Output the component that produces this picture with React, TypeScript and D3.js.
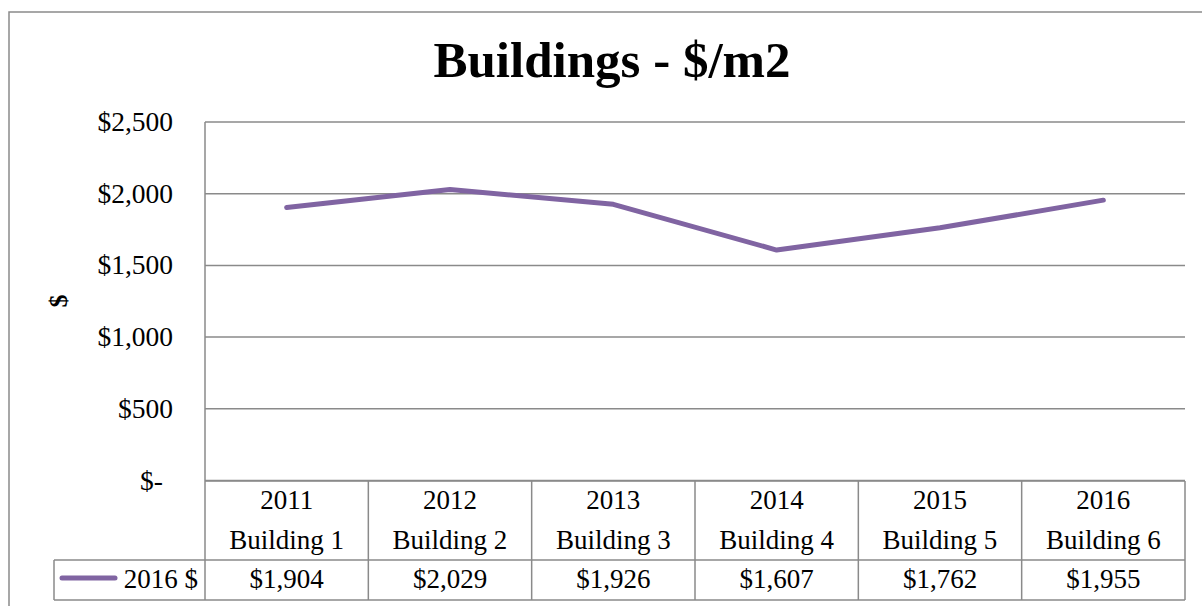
import React from "react";
import * as d3 from "d3";

const years = ["2011", "2012", "2013", "2014", "2015", "2016"];
const buildings = ["Building 1", "Building 2", "Building 3", "Building 4", "Building 5", "Building 6"];
const values2016 = [1904, 2029, 1926, 1607, 1762, 1955];
const seriesName = "2016 $";
const yTicks = [0, 500, 1000, 1500, 2000, 2500];

const W = 1202;
const H = 606;
const FONT = "'Liberation Serif', 'Times New Roman', serif";
const GRID = "#8a8a8a";
const LINE = "#8064a2";

const fmt = (v: number) => (v === 0 ? "$-" : "$" + d3.format(",")(v));

const App = () => {
  const x = d3.scaleBand<string>().domain(buildings).range([205, 1185]);
  const y = d3.scaleLinear().domain([0, 2500]).range([480.5, 122]);
  const rowTop = 481;
  const rowMid = 560;
  const rowBot = 600;

  const pts: [number, number][] = values2016.map((v, i) => [
    (x(buildings[i]) as number) + x.bandwidth() / 2,
    y(v),
  ]);
  const line = d3.line()(pts) as string;

  return (
    <svg
      width={W}
      height={H}
      style={{ position: "fixed", left: 0, top: 0, background: "#fff" }}
      fontFamily={FONT}
    >
      <rect x={9} y={12} width={1220} height={620} fill="#fff" stroke={GRID} strokeWidth={1.5} />

      <text x={612} y={77} textAnchor="middle" fontSize={51} fontWeight="bold" fill="#000">
        Buildings - $/m2
      </text>

      {/* gridlines */}
      {yTicks.map((t) => (
        <line key={t} x1={205} x2={1185} y1={y(t)} y2={y(t)} stroke={GRID} strokeWidth={1.5} />
      ))}
      {yTicks.map((t) => (
        <text
          key={"l" + t}
          x={t === 0 ? 163 : 173}
          y={y(t) + 9}
          textAnchor="end"
          fontSize={27.5}
          fill="#000"
        >
          {fmt(t)}
        </text>
      ))}

      <text
        transform="translate(67,301) rotate(-90)"
        textAnchor="middle"
        fontSize={26}
        fontWeight="bold"
        fill="#000"
      >
        $
      </text>

      {/* axis line */}
      <line x1={205} x2={205} y1={122} y2={rowBot} stroke={GRID} strokeWidth={1.5} />

      {/* data table */}
      <line x1={205} x2={1185} y1={rowTop} y2={rowTop} stroke={GRID} strokeWidth={1.5} />
      <line x1={54} x2={1185} y1={rowMid} y2={rowMid} stroke={GRID} strokeWidth={1.5} />
      <line x1={54} x2={1185} y1={rowBot} y2={rowBot} stroke={GRID} strokeWidth={1.5} />
      <line x1={54} x2={54} y1={rowMid} y2={rowBot} stroke={GRID} strokeWidth={1.5} />
      {buildings.map((b) => (
        <line
          key={"v" + b}
          x1={(x(b) as number) + x.bandwidth()}
          x2={(x(b) as number) + x.bandwidth()}
          y1={rowTop}
          y2={rowBot}
          stroke={GRID}
          strokeWidth={1.5}
        />
      ))}
      {buildings.map((b, i) => {
        const cx = (x(b) as number) + x.bandwidth() / 2;
        return (
          <g key={"c" + b} fontSize={27} fill="#000" textAnchor="middle">
            <text x={cx} y={509}>{years[i]}</text>
            <text x={cx} y={549}>{b}</text>
            <text x={cx} y={588}>{fmt(values2016[i])}</text>
          </g>
        );
      })}

      {/* legend key */}
      <line x1={62} x2={115} y1={578} y2={578} stroke={LINE} strokeWidth={5} strokeLinecap="round" />
      <text x={198} y={588} textAnchor="end" fontSize={27} fill="#000">
        {seriesName}
      </text>

      <path d={line} fill="none" stroke={LINE} strokeWidth={5} strokeLinecap="round" strokeLinejoin="round" />
    </svg>
  );
};

export default App;
